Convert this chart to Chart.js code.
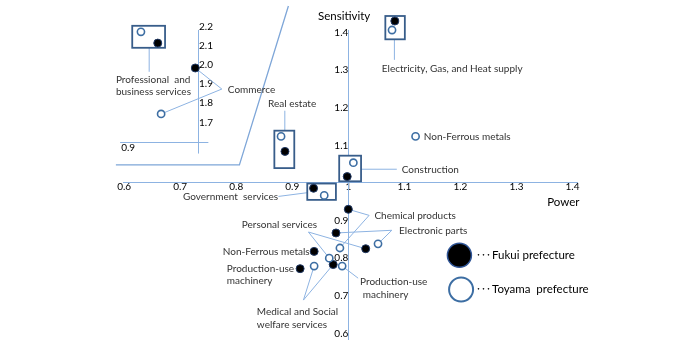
<!DOCTYPE html>
<html><head><meta charset="utf-8">
<script src="https://cdn.jsdelivr.net/npm/chart.js@4.4.1/dist/chart.umd.min.js"></script>
<style>html,body{margin:0;padding:0;background:#fff;}#wrap{width:700px;height:360px;}</style>
</head><body><div id="wrap"><canvas id="c" width="700" height="360"></canvas></div>
<script>
// ---------- DATA ----------
const categories = ["Professional and business services","Commerce","Real estate","Electricity, Gas, and Heat supply","Construction","Government services","Chemical products","Electronic parts","Personal services","Non-Ferrous metals","Medical and Social welfare services","Production-use machinery"];
const insetCategories = ["Professional and business services","Commerce"]; // plotted on the broken (upper) sensitivity axis
const fukuiPower       = [0.660,0.727,0.887,1.083,0.998,0.938,1.000,0.978,1.031,0.939,0.973,0.914];
const fukuiSensitivity = [2.114,1.984,1.084,1.431,1.017,0.986,0.930,0.867,0.825,0.818,0.783,0.772];
const toyamaPower       = [0.630,0.666,0.880,1.078,1.009,0.957,0.985,1.053,0.966,1.120,0.939,0.989];
const toyamaSensitivity = [2.173,1.744,1.124,1.407,1.054,0.967,0.827,0.838,0.800,1.124,0.779,0.779];
const xTicks = [0.6,0.7,0.8,0.9,1.0,1.1,1.2,1.3,1.4];
const xTickLabels = ["0.6","0.7","0.8","0.9","1","1.1","1.2","1.3","1.4"];
const yTicks = [0.6,0.7,0.8,0.9,1.1,1.2,1.3,1.4];
const yTickLabels = ["0.6","0.7","0.8","0.9","1.1","1.2","1.3","1.4"];
const insetTicks = [1.7,1.8,1.9,2.0,2.1,2.2];
const insetTickLabels = ["1.7","1.8","1.9","2.0","2.1","2.2"];
const seriesNames = ["Fukui prefecture","Toyama prefecture"];

// ---------- ANNOTATION LAYOUT (value space) ----------
const LINE_COLOR = '#8db3e2';
const BOX_COLOR = '#385d8a';
const TEXT_COLOR = '#333333';
const labelItems = [
  ["Professional  and",0.5853,1.2746,'left'],["business services",0.5853,1.2427,'left'],
  ["Commerce",0.7851,1.2473,'left'],["Real estate",0.8569,1.2109,'left'],
  ["Electricity, Gas, and Heat supply",1.0598,1.3030,'left'],
  ["Non-Ferrous metals",1.1347,1.1242,'left'],["Construction",1.0954,1.0349,'left'],
  ["Government  services",0.8748,0.9642,'right'],["Chemical products",1.0466,0.9120,'left'],
  ["Electronic parts",1.0906,0.8722,'left'],["Personal services",0.8100,0.8881,'left'],
  ["Non-Ferrous metals",0.7761,0.8176,'left'],
  ["Production-use",0.7833,0.7714,'left'],["machinery",0.7833,0.7388,'left'],
  ["Production-use",1.0210,0.7369,'left'],["machinery",1.0259,0.7016,'left'],
  ["Medical and Social",0.8368,0.6573,'left'],["welfare services",0.8368,0.6221,'left']
];
const F = c => ({s:0,c}), T = c => ({s:1,c});
const leaders = [
  [[0.6447,1.3595],[0.6447,1.2958]],
  [[0.7743,1.2499],F("Commerce")],[[0.7743,1.2499],T("Commerce")],
  [[0.8867,1.1923],[0.8867,1.1393]],
  [[1.0822,1.3825],[1.0822,1.3276]],
  [[1.0228,1.0366],[1.0865,1.0366]],
  [[0.8753,0.9642],[0.9260,0.9740]],
  [[1.0371,0.9138],F("Chemical products")],[[1.0371,0.9138],T("Chemical products")],
  [[1.0776,0.8741],F("Electronic parts")],[[1.0776,0.8741],T("Electronic parts")],
  [[0.9288,0.8695],F("Personal services")],[[0.9288,0.8695],T("Personal services")],
  [[0.9199,0.6884],T("Medical and Social welfare services")],[[0.9199,0.6884],F("Medical and Social welfare services")],
  [T("Production-use machinery"),[1.0175,0.7467]]
];
const boxes = [
  ["Professional and business services",[8.7,6,7.3,4.7]],
  ["Electricity, Gas, and Heat supply",[6.7,5,10,9.3]],
  ["Real estate",[6.7,5.7,9.3,16.7]],
  ["Construction",[8,7,7.7,4.7]],
  ["Government services",[6.3,4.7,11.7,4.5]]
];
const breakLine = [[0.8931,1.4709],[0.8057,1.0483],[0.5853,1.0483]];
const Y_AXIS_TOP = 1.4072;

// ---------- DATASETS ----------
const powers = [fukuiPower, toyamaPower], sens = [fukuiSensitivity, toyamaSensitivity];
function build(s, inset){
  return categories.map((c,i)=>({c,i})).filter(o=>insetCategories.includes(o.c)===inset)
    .map(o=>({x:powers[s][o.i], y:sens[s][o.i]}));
}
const toyamaStyle = {backgroundColor:'#ffffff', borderColor:'#3d6ea3', borderWidth:1.6, pointRadius:3.6, clip:false};
const fukuiStyle  = {backgroundColor:'#000000', borderColor:'#1f3864', borderWidth:1, pointRadius:4, clip:false};

function ptPix(chart, ref){
  const {x,y,y2} = chart.scales;
  if (Array.isArray(ref)) return [x.getPixelForValue(ref[0]), y.getPixelForValue(ref[1])];
  const i = categories.indexOf(ref.c);
  const ys = insetCategories.includes(ref.c) ? y2 : y;
  return [x.getPixelForValue(powers[ref.s][i]), ys.getPixelForValue(sens[ref.s][i])];
}

const decor = {
  id:'decor',
  beforeDatasetsDraw(chart){
    const {ctx, chartArea, scales:{x,y,y2}} = chart;
    ctx.save();
    // main sensitivity axis line (crosses at power = 1)
    ctx.strokeStyle = LINE_COLOR; ctx.lineWidth = 1;
    const ax = Math.round(x.getPixelForValue(1.0))+0.5;
    ctx.beginPath(); ctx.moveTo(ax, y.getPixelForValue(Y_AXIS_TOP)); ctx.lineTo(ax, chartArea.bottom); ctx.stroke();
    // axis break line
    ctx.strokeStyle = '#7ea6d8'; ctx.lineWidth = 1.3;
    ctx.beginPath();
    breakLine.forEach((p,k)=>{const q=ptPix(chart,p); k?ctx.lineTo(q[0],q[1]):ctx.moveTo(q[0],q[1]);});
    ctx.stroke();
    // inset (broken) sensitivity axis
    ctx.strokeStyle = LINE_COLOR; ctx.lineWidth = 1;
    const ix = Math.round(x.getPixelForValue(0.7326))+0.5;
    ctx.beginPath(); ctx.moveTo(ix, y.getPixelForValue(Y_AXIS_TOP)); ctx.lineTo(ix, y2.getPixelForValue(1.537)); ctx.stroke();
    const hy = Math.round(y.getPixelForValue(1.1083))+0.5;
    ctx.beginPath(); ctx.moveTo(x.getPixelForValue(0.5929), hy); ctx.lineTo(x.getPixelForValue(0.7503), hy); ctx.stroke();
    ctx.fillStyle = '#000'; ctx.font = '10px Lato'; ctx.textBaseline = 'middle'; ctx.textAlign = 'left';
    insetTicks.forEach((v,k)=>ctx.fillText(insetTickLabels[k], ix+0.5, y2.getPixelForValue(v)));
    ctx.fillText("0.9", x.getPixelForValue(0.5947), y.getPixelForValue(1.0934));
    // leader lines
    ctx.strokeStyle = LINE_COLOR; ctx.lineWidth = 1;
    leaders.forEach(([a,b])=>{const p=ptPix(chart,a), q=ptPix(chart,b);
      ctx.beginPath(); ctx.moveTo(p[0],p[1]); ctx.lineTo(q[0],q[1]); ctx.stroke();});
    // boxes around prefecture pairs
    boxes.forEach(([c,pad])=>{
      const a=ptPix(chart,F(c)), b=ptPix(chart,T(c));
      const l=Math.min(a[0],b[0])-pad[0], t=Math.min(a[1],b[1])-pad[1];
      const r=Math.max(a[0],b[0])+pad[2], bt=Math.max(a[1],b[1])+pad[3];
      ctx.fillStyle='#fff'; ctx.fillRect(l,t,r-l,bt-t);
      ctx.strokeStyle=BOX_COLOR; ctx.lineWidth=1.8; ctx.strokeRect(l,t,r-l,bt-t);
    });
    // category labels
    ctx.fillStyle = TEXT_COLOR; ctx.font = '10px Lato'; ctx.textBaseline='middle';
    labelItems.forEach(([t,vx,vy,al])=>{ctx.textAlign=al; ctx.fillText(t, x.getPixelForValue(vx), y.getPixelForValue(vy));});
    // axis titles
    ctx.fillStyle = '#000'; ctx.font = '11.5px Lato'; ctx.textAlign='center';
    ctx.fillText("Sensitivity", x.getPixelForValue(0.9925), y.getPixelForValue(1.4443));
    ctx.fillText("Power", x.getPixelForValue(1.3837), y.getPixelForValue(0.9475));
    ctx.restore();
  },
  afterDatasetsDraw(chart){
    const {ctx, scales:{x,y}} = chart;
    ctx.save();
    const items = [[1.1982,0.8077,fukuiStyle,'#2f5597'],[1.2012,0.7167,toyamaStyle,'#3d6ea3']];
    items.forEach(([vx,vy,st,bc],k)=>{
      const px=x.getPixelForValue(vx), py=y.getPixelForValue(vy);
      ctx.beginPath(); ctx.arc(px,py,12,0,Math.PI*2);
      ctx.fillStyle=st.backgroundColor; ctx.fill();
      ctx.lineWidth=k?2:1.5; ctx.strokeStyle=bc; ctx.stroke();
      const tx = x.getPixelForValue(1.2278);
      ctx.fillStyle='#000'; ctx.textBaseline='middle'; ctx.textAlign='left';
      ctx.font='10px "Noto Sans CJK JP"';
      ctx.fillText('･･･', tx, py);
      const w = ctx.measureText('･･･').width;
      ctx.font='11.5px Lato';
      ctx.fillText(k? "Toyama  prefecture" : "Fukui prefecture", tx+w+1, py);
    });
    ctx.restore();
  }
};

Chart.defaults.font.family = 'Lato';
new Chart(document.getElementById('c'), {
  type:'scatter',
  data:{datasets:[
    {label:seriesNames[1], data:build(1,false), yAxisID:'y', ...toyamaStyle},
    {label:seriesNames[1]+' (upper axis)', data:build(1,true), yAxisID:'y2', ...toyamaStyle},
    {label:seriesNames[0], data:build(0,false), yAxisID:'y', ...fukuiStyle},
    {label:seriesNames[0]+' (upper axis)', data:build(0,true), yAxisID:'y2', ...fukuiStyle}
  ]},
  options:{
    responsive:false, animation:false, devicePixelRatio:1,
    layout:{padding:{left:123,right:123,top:5,bottom:20}},
    plugins:{legend:{display:false}, tooltip:{enabled:false}},
    scales:{
      x:{type:'linear', min:0.598, max:1.408, position:{y:1.0},
        grid:{display:false}, border:{display:true,color:LINE_COLOR,width:1},
        afterBuildTicks:s=>{s.ticks = xTicks.map(v=>({value:v}));},
        ticks:{padding:-10, color:'#000', font:{size:10}, maxRotation:0, autoSkip:false,
          callback:(v)=>xTickLabels[xTicks.findIndex(t=>Math.abs(t-v)<1e-6)]}},
      y:{type:'linear', min:0.5822, max:1.4709, position:{x:1.0},
        grid:{display:false}, border:{display:false},
        afterBuildTicks:s=>{s.ticks = yTicks.map(v=>({value:v}));},
        ticks:{padding:0, color:'#000', font:{size:10}, autoSkip:false,
          callback:(v)=>yTickLabels[yTicks.findIndex(t=>Math.abs(t-v)<1e-6)]}},
      y2:{type:'linear', display:false, min:0.5630, max:2.3078}
    }
  },
  plugins:[decor]
});
</script></body></html>
